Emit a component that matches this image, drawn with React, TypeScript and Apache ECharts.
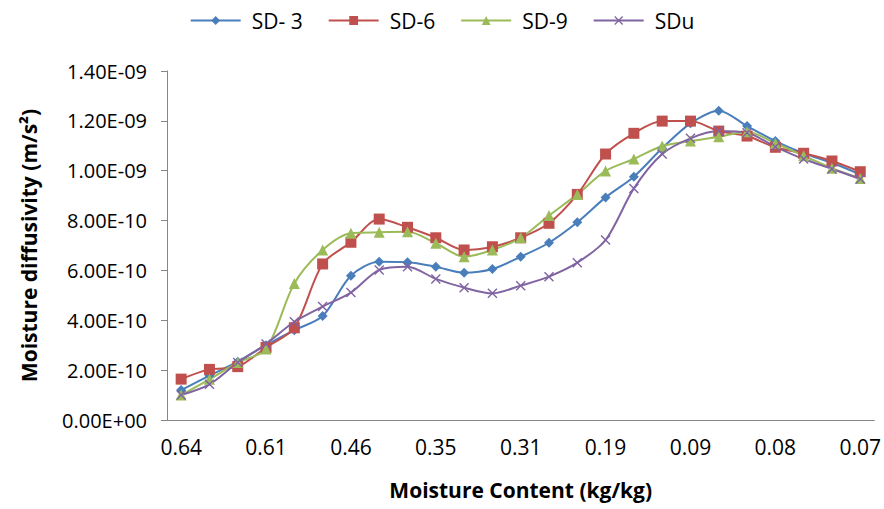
import React, { useEffect, useRef } from "react";
import * as echarts from "echarts";

// x-axis: 25 moisture content categories; only every third one is labelled in the source
const tickLabels = ["0.64", "0.61", "0.46", "0.35", "0.31", "0.19", "0.09", "0.08", "0.07"];
const categories: string[] = Array.from({ length: 25 }, (_, i) =>
  i % 3 === 0 ? tickLabels[i / 3] : "c" + i
);

// Moisture diffusivity values in units of 1e-10 m²/s
const sd3 = [1.2, 1.78, 2.34, 3.0, 3.6, 4.17, 5.79, 6.35, 6.33, 6.15, 5.91, 6.06, 6.55, 7.11, 7.93, 8.93, 9.76, 10.9, 11.9, 12.41, 11.79, 11.19, 10.7, 10.32, 9.85];
const sd6 = [1.64, 2.03, 2.14, 2.91, 3.7, 6.26, 7.13, 8.06, 7.73, 7.31, 6.82, 6.95, 7.31, 7.89, 9.05, 10.67, 11.5, 11.99, 11.99, 11.59, 11.39, 10.94, 10.7, 10.39, 9.96];
const sd9 = [1.0, 1.63, 2.31, 2.85, 5.48, 6.82, 7.49, 7.53, 7.55, 7.09, 6.55, 6.82, 7.31, 8.2, 9.05, 9.99, 10.47, 10.99, 11.19, 11.36, 11.56, 11.1, 10.6, 10.1, 9.69];
const sdu = [1.0, 1.43, 2.31, 3.05, 3.94, 4.55, 5.11, 6.02, 6.15, 5.66, 5.31, 5.08, 5.39, 5.75, 6.31, 7.22, 9.29, 10.67, 11.3, 11.59, 11.52, 10.96, 10.47, 10.07, 9.67];

const seriesNames = ["SD- 3", "SD-6", "SD-9", "SDu"];
const colors = ["#4A7EBB", "#C0504D", "#9BBB59", "#8064A2"];

const FONT = "'Open Sans', 'Noto Sans', sans-serif";

function fmtSci(v: number): string {
  const real = v * 1e-10;
  if (Math.abs(real) < 1e-30) return "0.00E+00";
  const s = real.toExponential(2);
  const [mant, exp] = s.split("e");
  const sign = exp[0] === "-" ? "-" : "+";
  const digits = exp.replace(/^[+-]/, "").padStart(2, "0");
  return `${mant}E${sign}${digits}`;
}

const crossPath = "path://M0,1L1,0L5,4L9,0L10,1L6,5L10,9L9,10L5,6L1,10L0,9L4,5Z";

export default function App() {
  const ref = useRef<HTMLDivElement>(null);

  useEffect(() => {
    if (!ref.current) return;
    const chart = echarts.init(ref.current, null, { renderer: "svg" });
    const datasets = [sd3, sd6, sd9, sdu];
    const symbols = ["diamond", "rect", "triangle", crossPath];
    const sizes = [10, 11, 11, 10];
    chart.setOption({
      animation: false,
      backgroundColor: "#ffffff",
      textStyle: { fontFamily: FONT },
      legend: {
        top: 5,
        left: "center",
        itemWidth: 50,
        itemHeight: 11,
        itemGap: 25,
        textStyle: { fontFamily: FONT, fontSize: 21, color: "#000", padding: [0, 0, 0, 6] },
        data: seriesNames,
      },
      grid: { left: 167, right: 9, top: 71, bottom: 89 },
      xAxis: {
        type: "category",
        data: categories,
        boundaryGap: true,
        name: "Moisture Content (kg/kg)",
        nameLocation: "middle",
        nameGap: 59,
        nameTextStyle: { fontFamily: FONT, fontSize: 21, fontWeight: "bold", color: "#000" },
        axisLine: { lineStyle: { color: "#868686", width: 1 } },
        axisTick: { alignWithLabel: true, interval: 0, length: 6, lineStyle: { color: "#868686" } },
        axisLabel: {
          interval: 2,
          margin: 16,
          fontFamily: FONT,
          fontSize: 21,
          color: "#000",
        },
        splitLine: { show: false },
      },
      yAxis: {
        type: "value",
        min: 0,
        max: 14,
        interval: 2,
        name: "Moisture diffusivity (m/s²)",
        nameLocation: "middle",
        nameGap: 128,
        nameTextStyle: { fontFamily: FONT, fontSize: 21, fontWeight: "bold", color: "#000" },
        axisLine: { show: true, lineStyle: { color: "#868686", width: 1 } },
        axisTick: { show: true, length: 6, lineStyle: { color: "#868686" } },
        axisLabel: {
          formatter: (v: number) => fmtSci(v),
          margin: 20,
          fontFamily: FONT,
          fontSize: 20,
          color: "#000",
        },
        splitLine: { show: false },
      },
      series: datasets.map((d, i) => ({
        name: seriesNames[i],
        type: "line",
        data: d,
        smooth: 0.3,
        symbol: symbols[i],
        symbolSize: sizes[i],
        showSymbol: true,
        lineStyle: { color: colors[i], width: 2 },
        itemStyle: { color: colors[i] },
        emphasis: { disabled: true },
      })),
    });
    return () => chart.dispose();
  }, []);

  return (
    <div
      ref={ref}
      style={{ position: "fixed", left: 0, top: 0, width: 884, height: 509 }}
    />
  );
}
